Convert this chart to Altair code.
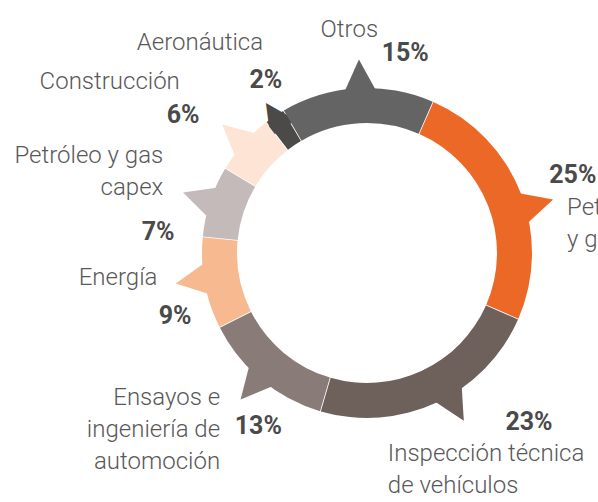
import math
import altair as alt
import pandas as pd

# ---- data ----
categories = [
    "Petróleo y gas",
    "Inspección técnica de vehículos",
    "Ensayos e ingeniería de automoción",
    "Energía",
    "Petróleo y gas capex",
    "Construcción",
    "Aeronáutica",
    "Otros",
]
shares = [25, 23, 13, 9, 7, 6, 2, 15]
label_lines = [
    "Petróleo\ny gas",
    "Inspección técnica\nde vehículos",
    "Ensayos e\ningeniería de\nautomoción",
    "Energía",
    "Petróleo y gas\ncapex",
    "Construcción",
    "Aeronáutica",
    "Otros",
]
colors = ["#EC6827", "#6E605B", "#887B78", "#F7B98F", "#C4BAB9", "#FDE4D5", "#4B4A48", "#646464"]

# ---- layout (placement relative to each slice's middle) ----
START_DEG = 23.6
CX, CY = 367, 253
R_IN, R_OUT = 130, 165
spike_dtheta = [5.4, -5.0, 1.0, 1.5, 0, 0, 0, 1.0]
spike_font = [60, 60, 60, 60, 60, 60, 40, 60]
spike_radius = [173, 173, 173, 173, 173, 173, 167, 173]
pct_dtheta = [0.7, -18.8, -7.6, -7.6, -12.5, -4.7, 3.6, 14.2]
pct_radius = [220, 234, 204, 202, 210, 230, 200, 204]
cat_dtheta = [5.5, 18.7, 8.1, 7.1, 9.9, 2.8, 8.9, 6.1]
cat_radius = [208, 190, 198, 210, 231, 262, 245, 235]
cat_align = ["left", "left", "right", "right", "right", "right", "right", "right"]

total = sum(shares)
rows = []
cum = 0
for i, (c, v) in enumerate(zip(categories, shares)):
    cum += v
    mid_units = cum - v / 2
    mid_deg = START_DEG + mid_units / total * 360
    rows.append(
        dict(
            idx=i,
            cat=c,
            share=v,
            pct=f"{v}%",
            label=label_lines[i].split("\n"),
            spike_pos=mid_units + spike_dtheta[i] / 360 * total,
            spike_angle=mid_deg + spike_dtheta[i],
            spike_size=spike_font[i],
            spike_r=spike_radius[i],
            pct_pos=mid_units + pct_dtheta[i] / 360 * total,
            pct_r=pct_radius[i],
            cat_pos=mid_units + cat_dtheta[i] / 360 * total,
            cat_r=cat_radius[i],
            align=cat_align[i],
        )
    )
df = pd.DataFrame(rows)

a0 = math.radians(START_DEG)
theta_scale = alt.Scale(domain=[0, total], range=[a0, a0 + 2 * math.pi])
color_enc = alt.Color("cat:N", scale=alt.Scale(domain=categories, range=colors), legend=None)

base = alt.Chart(df).encode(x=alt.value(CX), y=alt.value(CY))

spikes = base.mark_text(
    text="▲", font="DejaVu Sans", align="center", baseline="middle"
).encode(
    theta=alt.Theta("spike_pos:Q", stack=False, scale=theta_scale),
    radius=alt.Radius("spike_r:Q", scale=None),
    size=alt.Size("spike_size:Q", scale=None),
    color=color_enc,
    angle=alt.Angle("spike_angle:Q", scale=None),
)

ring = base.mark_arc(innerRadius=R_IN, outerRadius=R_OUT, padAngle=0.004).encode(
    theta=alt.Theta("share:Q", stack=True, scale=theta_scale),
    order=alt.Order("idx:Q"),
    color=color_enc,
)

pct_text = base.mark_text(
    font="Roboto", fontWeight="bold", fontSize=25, color="#4A4A4A", align="center", baseline="middle"
).encode(
    theta=alt.Theta("pct_pos:Q", stack=False, scale=theta_scale),
    radius=alt.Radius("pct_r:Q", scale=None),
    text="pct:N",
)

def cat_layer(al):
    return base.mark_text(
        font="Roboto", fontWeight=300, fontSize=24, color="#585858", align=al, baseline="top", lineHeight=32
    ).encode(
        theta=alt.Theta("cat_pos:Q", stack=False, scale=theta_scale),
        radius=alt.Radius("cat_r:Q", scale=None),
        text="label",
    ).transform_filter(alt.datum.align == al)

chart = (
    alt.layer(spikes, ring, pct_text, cat_layer("left"), cat_layer("right"))
    .properties(width=598, height=502, padding=0, autosize=alt.AutoSizeParams(type="none"), background="white")
    .configure_view(stroke=None)
)

chart.save("out.html", embed_options={"renderer": "svg", "actions": False})
